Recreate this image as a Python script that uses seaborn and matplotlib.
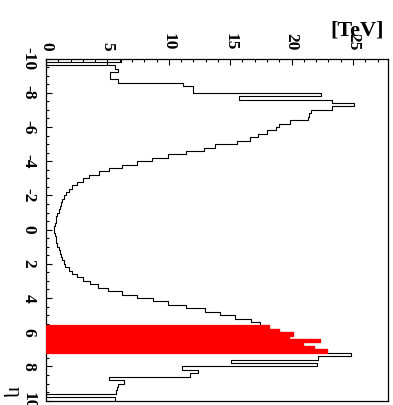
import numpy as np
import pandas as pd
import matplotlib
matplotlib.use("Agg")
import matplotlib.pyplot as plt
from matplotlib.ticker import MultipleLocator
import seaborn as sns

plt.rcParams["axes.unicode_minus"] = False

# ---- data -------------------------------------------------------------
eta_edges = [round(v, 1) for v in np.arange(-10.0, 10.0001, 0.2)]
energy_tev = [
    6.07, 0.00, 5.60, 5.90, 5.20, 5.20, 5.85, 11.15, 12.00, 12.00,
    22.40, 15.70, 23.30, 25.05, 23.30, 21.60, 21.40, 21.30, 19.90, 18.97,
    18.75, 18.02, 17.26, 16.64, 15.56, 13.74, 12.85, 11.36, 9.95, 8.67,
    7.43, 6.15, 5.12, 4.34, 3.52, 2.98, 2.55, 2.14, 1.90, 1.63,
    1.45, 1.33, 1.22, 1.12, 1.02, 0.93, 0.85, 0.78, 0.72, 0.67,
    0.67, 0.72, 0.78, 0.85, 0.93, 1.02, 1.12, 1.22, 1.33, 1.45,
    1.56, 1.84, 2.14, 2.50, 2.98, 3.58, 4.25, 5.07, 6.15, 7.37,
    8.73, 9.95, 11.44, 12.98, 14.15, 15.37, 16.72, 17.40, 18.20, 18.94,
    20.10, 19.78, 22.33, 20.90, 21.80, 22.87, 24.85, 22.14, 15.10, 22.06,
    11.10, 12.40, 11.70, 5.15, 6.34, 5.88, 5.75, 5.70, 0.00, 5.64,
]
red_range = (5.6, 7.2)
energy_ticks = [0, 5, 10, 15, 20, 25]
eta_ticks = [-10, -8, -6, -4, -2, 0, 2, 4, 6, 8, 10]

edges_arr = np.array(eta_edges)
eta_centers = (edges_arr[:-1] + edges_arr[1:]) / 2
df = pd.DataFrame({"eta": eta_centers, "energy": energy_tev})
red_df = df[(df["eta"] > red_range[0]) & (df["eta"] < red_range[1])]
red_edges = [e for e in eta_edges if red_range[0] - 1e-9 <= e <= red_range[1] + 1e-9]

# ---- figure -----------------------------------------------------------
W, H = 393, 405
fig = plt.figure(figsize=(W / 100, H / 100), dpi=100)
L, R, T, B = 46, 388, 58.6, 400.6
ax = fig.add_axes([L / W, 1 - B / H, (R - L) / W, (B - T) / H])

sns.histplot(data=df, y="eta", weights="energy", bins=eta_edges,
             element="step", fill=False, color="black", linewidth=0.8,
             ax=ax, zorder=2)
sns.histplot(data=red_df, y="eta", weights="energy", bins=red_edges,
             element="step", fill=True, color="red", alpha=1,
             edgecolor="red", linewidth=0.9, ax=ax, zorder=3)

ax.set_ylim(10, -10)
ax.set_xlim(0, 27.85)
ax.set_xlabel("")
ax.set_ylabel("")

ax.xaxis.tick_top()
ax.set_xticks(energy_ticks)
ax.xaxis.set_minor_locator(MultipleLocator(1))
ax.set_yticks(eta_ticks)
ax.yaxis.set_minor_locator(MultipleLocator(0.5))

ax.tick_params(which="both", direction="in", top=True, bottom=False,
               left=True, right=False, labeltop=True, labelbottom=False,
               width=0.8, color="black")
ax.tick_params(which="major", length=4.2)
ax.tick_params(which="minor", length=2.2)
ax.tick_params(axis="x", pad=6)
ax.tick_params(axis="y", pad=7)

tick_font = dict(family="Liberation Serif", weight="bold", size=12.5)
for lbl in ax.get_xticklabels():
    lbl.set_rotation(-90)
    lbl.set_ha("center")
    lbl.set_va("bottom")
    lbl.set_fontproperties(tick_font)
for lbl in ax.get_yticklabels():
    lbl.set_rotation(-90)
    lbl.set_ha("right")
    lbl.set_va("center")
    lbl.set_fontproperties(tick_font)

for s in ax.spines.values():
    s.set_linewidth(0.9)
    s.set_color("black")

fig.text(357 / W, 1 - 30 / H, "[TeV]", ha="center", va="center",
         family="Liberation Serif", weight="bold", size=16)
fig.text(12.5 / W, 1 - 391 / H, "η", ha="center", va="center",
         rotation=-90, family="Liberation Serif", size=15)

fig.savefig("out.png", dpi=100)
